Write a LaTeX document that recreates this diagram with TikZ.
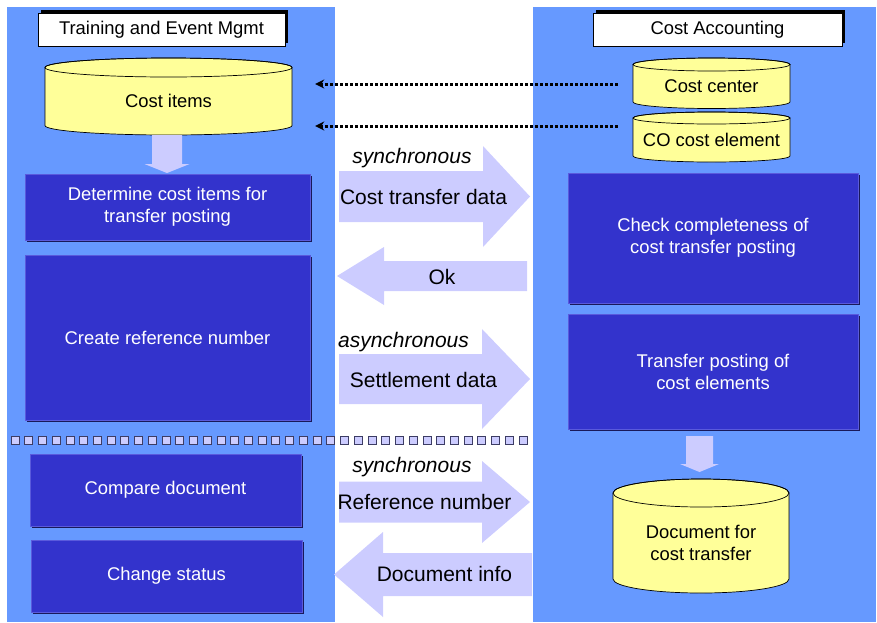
\documentclass[tikz,border=0pt]{standalone}
\usepackage{fontspec}
\setmainfont{Liberation Sans}
\usetikzlibrary{arrows.meta,shadows}
\definecolor{panelblue}{RGB}{102,153,255}
\definecolor{boxblue}{RGB}{51,51,204}
\definecolor{boxedge}{RGB}{90,90,220}
\definecolor{boxshade}{RGB}{25,25,90}
\definecolor{lav}{RGB}{204,204,255}
\definecolor{dbyellow}{RGB}{255,255,153}
\definecolor{sqedge}{RGB}{60,60,100}
\tikzset{
  panel/.style={fill=panelblue},
  ttl/.style={draw=black, fill=white, inner sep=0pt,
    drop shadow={shadow xshift=3pt, shadow yshift=3pt, fill=black, opacity=1}},
  proc/.style={draw=boxedge, fill=boxblue, text=white, align=center, inner sep=0pt,
    drop shadow={shadow xshift=2pt, shadow yshift=-2pt, fill=boxshade, opacity=1}},
  db/.style={draw=black, fill=dbyellow, line width=0.7pt},
  dbtxt/.style={align=center, inner sep=0pt},
  blk/.style={fill=lav},
  lbl/.style={font=\fontsize{21}{25}\selectfont},
  dotarr/.style={line width=3pt, dash pattern=on 3pt off 2pt, -{Stealth[length=9pt,width=9pt]}},
  sq/.style={draw=sqedge, fill=lav, line width=0.8pt}
}
% cylinder: name, centre x, top-ellipse y, bottom y, x radius, y radius, text
\newcommand\dbnode[7]{%
  \filldraw[db] ({#2-#5},#3) -- ({#2-#5},{#4-#6}) arc[start angle=180,end angle=360,x radius=#5pt,y radius=#6pt]
    -- ({#2+#5},#3) arc[start angle=0,end angle=180,x radius=#5pt,y radius=#6pt] -- cycle;
  \draw[db, fill=none] (#2,#3) ellipse[x radius=#5pt,y radius=#6pt];
  \node[dbtxt, minimum width={2*#5}, minimum height={#4-#3}] (#1) at (#2,{(#3+#4)/2}) {#7};}
% block arrows: tail, tip, centre, half shaft, half head, head length
\newcommand\hblock[6]{%
  \fill[blk] (#1,{#3-#4}) -- ({#2-(#6)},{#3-#4}) -- ({#2-(#6)},{#3-#5}) -- (#2,#3)
    -- ({#2-(#6)},{#3+#5}) -- ({#2-(#6)},{#3+#4}) -- (#1,{#3+#4}) -- cycle;}
\newcommand\vblock[6]{%
  \fill[blk] ({#1-#4},#2) -- ({#1-#4},{#3-#6}) -- ({#1-#5},{#3-#6}) -- (#1,#3)
    -- ({#1+#5},{#3-#6}) -- ({#1+#4},{#3-#6}) -- ({#1+#4},#2) -- cycle;}
\begin{document}
\begin{tikzpicture}[x=1pt, y=-1pt, font=\fontsize{18.4}{22}\selectfont]
  \useasboundingbox (0,0) rectangle (877,622);
  % the two systems
  \fill[panel] (7,7) rectangle (335,622);
  \fill[panel] (533,7) rectangle (876,622);
  \node[ttl, minimum width=247, minimum height=33] (tem) at (161.5,29.5) {Training and Event Mgmt};
  \node[ttl, minimum width=249, minimum height=33] (ca) at (717.5,29.5) {Cost Accounting};
  % data stores
  \dbnode{ci}{168.5}{67.5}{135}{123.5}{9.5}{Cost items}
  \dbnode{cc}{711.5}{64.5}{108.5}{78.5}{6.5}{Cost center}
  \dbnode{coe}{711.5}{118}{162}{78.5}{6}{CO cost element}
  \dbnode{doc}{701}{493}{593}{88}{14}{Document for\\cost transfer}
  \coordinate (cco) at ([yshift=2.5pt]cc.west);
  \coordinate (coeo) at ([yshift=14pt]coe.west);
  \draw[dotarr, shorten <=15pt, shorten >=23pt] (cco) -- (cco -| ci.east);
  \draw[dotarr, shorten <=15pt, shorten >=23pt] (coeo) -- (coeo -| ci.east);
  % steps
  \node[proc, minimum width=285, minimum height=66] (det) at (167.5,207) {Determine cost items for\\transfer posting};
  \node[proc, minimum width=285, minimum height=165] (crn) at (167.5,337.5) {Create reference number};
  \node[proc, minimum width=271, minimum height=72] (cmp) at (165.5,490) {Compare document};
  \node[proc, minimum width=271, minimum height=72] (chs) at (166.5,576) {Change status};
  \node[proc, minimum width=290, minimum height=130] (chk) at (713,238) {Check completeness of\\cost transfer posting};
  \node[proc, minimum width=290, minimum height=115] (tpc) at (713,371.5) {Transfer posting of\\cost elements};
  \vblock{167}{135}{173}{15}{22.5}{9}
  \vblock{699.5}{436}{472}{13.5}{19.5}{8}
  % messages between the systems
  \hblock{339}{530}{196.5}{25.5}{50.5}{47}
  \hblock{527}{337}{276}{15}{29}{-47}
  \hblock{339}{530}{379}{25}{50}{48}
  \hblock{339}{530}{502}{20.5}{41}{48}
  \hblock{532}{334}{574.5}{21.5}{42.5}{-49}
  \node[lbl, font=\fontsize{21}{25}\selectfont\itshape] (sy1) at (412,158) {synchronous};
  \node[lbl] (ctd) at (423.5,197) {Cost transfer data};
  \node[lbl] (ok) at (442,277) {Ok};
  \node[lbl, font=\fontsize{21}{25}\selectfont\itshape] (asy) at (403.5,342) {asynchronous};
  \node[lbl] (set) at (423.5,380) {Settlement data};
  \node[lbl, font=\fontsize{21}{25}\selectfont\itshape] (sy2) at (412,467) {synchronous};
  \node[lbl] (ref) at (424.5,502) {Reference number};
  \node[lbl] (dinf) at (444.5,574) {Document info};
  % separator
  \foreach \i in {0,...,37}
    \filldraw[sq] ({11+\i*13.73},436) rectangle +(8,8);
\end{tikzpicture}
\end{document}
